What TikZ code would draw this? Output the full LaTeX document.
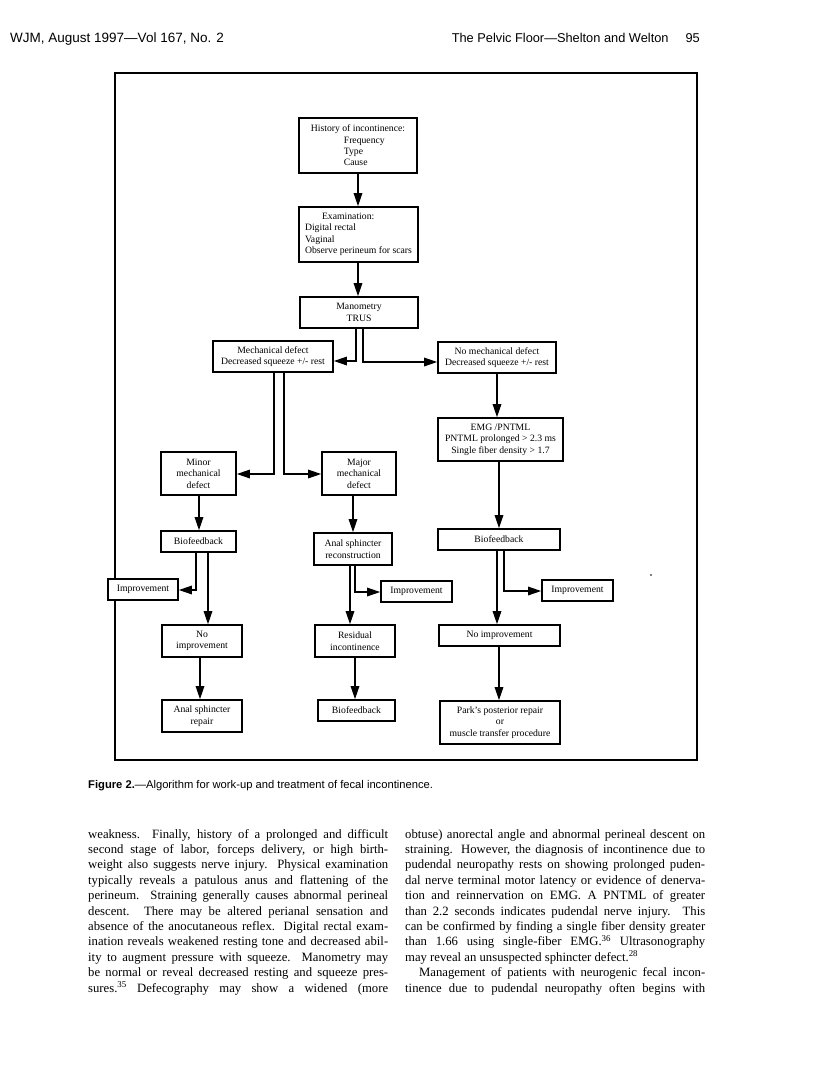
\documentclass[tikz,border=0pt]{standalone}
\usepackage{fontspec}
\setmainfont{Liberation Serif}
\setsansfont{Liberation Sans}
\usetikzlibrary{arrows.meta}
\newcommand{\jline}[1]{\makebox[300pt][s]{#1}}
\begin{document}
\begin{tikzpicture}[x=1pt, y=-1pt, line join=miter,
	box/.style={draw, line width=1.6pt, fill=white, inner sep=0pt, align=center, font=\fontsize{9.7}{11.4}\selectfont},
	arr/.style={line width=1.4pt, -{Triangle[length=13pt,width=8.5pt]}},
	bodytext/.style={inner sep=0pt, anchor=north west, align=left, font=\fontsize{12.7}{15.4}\selectfont}]
	\useasboundingbox (0,0) rectangle (816,1088);
	% running head
	\node[anchor=base west, inner sep=0pt, font=\sffamily\fontsize{13.5}{15}\selectfont] (headl) at (10,42) {WJM, August 1997\textemdash Vol 167, No. 2};
	\node[anchor=base east, inner sep=0pt, font=\sffamily\fontsize{12.8}{15}\selectfont] (headr) at (700,42) {The Pelvic Floor\textemdash Shelton and Welton\hspace{17pt}95};
	% figure frame
	\draw[line width=1.8pt] (115,73) rectangle (697,760);
	% first column of the chart
	\node[box, minimum width=118pt, minimum height=55pt, align=left] (hist) at (358,145.5) {History of incontinence:\\\hspace*{33pt}Frequency\\\hspace*{33pt}Type\\\hspace*{33pt}Cause};
	\node[box, minimum width=119pt, minimum height=55pt, align=left] (exam) at (358.5,234.5) {\hspace*{17pt}Examination:\\Digital rectal\\Vaginal\\Observe perineum for scars};
	\node[box, minimum width=118pt, minimum height=31pt] (mano) at (359,312.5) {Manometry\\TRUS};
	\node[box, minimum width=120pt, minimum height=31pt] (mech) at (273,356.5) {Mechanical defect\\Decreased squeeze +/- rest};
	\node[box, minimum width=118pt, minimum height=31pt] (nomech) at (497,357.5) {No mechanical defect\\Decreased squeeze +/- rest};
	\node[box, minimum width=125pt, minimum height=43pt] (emg) at (500.5,439.5) {EMG /PNTML\\PNTML prolonged > 2.3 ms\\Single fiber density > 1.7};
	% second row of the chart
	\node[box, minimum width=75pt, minimum height=43pt] (minor) at (198.5,473.5) {Minor\\mechanical\\defect};
	\node[box, minimum width=74pt, minimum height=43pt] (major) at (359,473.5) {Major\\mechanical\\defect};
	\node[box, minimum width=75pt, minimum height=21pt] (bfl) at (198.5,541.5) {Biofeedback};
	\node[box, minimum width=78pt, minimum height=32pt] (asr) at (353,549) {Anal sphincter\\reconstruction};
	\node[box, minimum width=122pt, minimum height=21pt] (bfr) at (499,539.5) {Biofeedback};
	\node[box, minimum width=70pt, minimum height=21pt] (impl) at (143,589.5) {Improvement};
	\node[box, minimum width=71pt, minimum height=21pt] (impm) at (416.5,591.5) {Improvement};
	\node[box, minimum width=71pt, minimum height=21pt] (impr) at (577.5,590.5) {Improvement};
	\node[box, minimum width=80pt, minimum height=32pt] (noimpl) at (202,641) {No\\improvement};
	\node[box, minimum width=80pt, minimum height=32pt] (resid) at (355,641) {Residual\\incontinence};
	\node[box, minimum width=121pt, minimum height=21pt] (noimpr) at (499.5,635.5) {No improvement};
	\node[box, minimum width=80pt, minimum height=32pt] (repair) at (202,716) {Anal sphincter\\repair};
	\node[box, minimum width=77pt, minimum height=21pt] (bfm) at (356.5,710.5) {Biofeedback};
	\node[box, minimum width=120pt, minimum height=43pt] (parks) at (500,722.5) {Park's posterior repair\\or\\muscle transfer procedure};
	% connectors
	\draw[arr] (hist.south) -- (hist.south |- exam.north);
	\draw[arr] ([xshift=-0.5pt]exam.south) -- ([xshift=-0.5pt]exam.south |- mano.north);
	\draw[arr] ([xshift=-3pt]mano.south) |- ([yshift=-4.5pt]mech.east);
	\draw[arr] ([xshift=4pt]mano.south) |- ([yshift=-4.5pt]nomech.west);
	\draw[arr] ([xshift=1pt]mech.south) |- ([yshift=-0.5pt]minor.east);
	\draw[arr] ([xshift=11pt]mech.south) |- ([yshift=-0.5pt]major.west);
	\draw[arr] (nomech.south) -- (nomech.south |- emg.north);
	\draw[arr] (bfr.north |- emg.south) -- (bfr.north);
	\draw[arr] ([xshift=0.5pt]minor.south) -- ([xshift=0.5pt]minor.south |- bfl.north);
	\draw[arr] (asr.north |- major.south) -- (asr.north);
	\draw[arr] ([xshift=-2.5pt]bfl.south) |- ([yshift=-0.5pt]impl.east);
	\draw[arr] ([xshift=9.5pt]bfl.south) -- ([xshift=9.5pt]bfl.south |- noimpl.north);
	\draw[arr] ([xshift=2pt]asr.south) |- ([yshift=-0.5pt]impm.west);
	\draw[arr] ([xshift=-3pt]asr.south) -- ([xshift=-3pt]asr.south |- resid.north);
	\draw[arr] ([xshift=5pt]bfr.south) |- ([yshift=-0.5pt]impr.west);
	\draw[arr] ([xshift=-2pt]bfr.south) -- ([xshift=-2pt]bfr.south |- noimpr.north);
	\draw[arr] ([xshift=-2pt]noimpl.south) -- ([xshift=-2pt]noimpl.south |- repair.north);
	\draw[arr] (resid.south) -- (resid.south |- bfm.north);
	\draw[arr] ([xshift=-0.5pt]noimpr.south) -- ([xshift=-0.5pt]noimpr.south |- parks.north);
	\fill (651,575) circle (0.8pt);
	% caption
	\node[anchor=base west, inner sep=0pt, font=\sffamily\fontsize{11.2}{13}\selectfont] (capt) at (88,788) {\textbf{Figure 2.}\textemdash Algorithm for work-up and treatment of fecal incontinence.};
	% body text
	\node[bodytext] (colA) at (88,829) {%
		\jline{weakness. Finally, history of a prolonged and difficult}\\
		\jline{second stage of labor, forceps delivery, or high birth-}\\
		\jline{weight also suggests nerve injury. Physical examination}\\
		\jline{typically reveals a patulous anus and flattening of the}\\
		\jline{perineum. Straining generally causes abnormal perineal}\\
		\jline{descent. There may be altered perianal sensation and}\\
		\jline{absence of the anocutaneous reflex. Digital rectal exam-}\\
		\jline{ination reveals weakened resting tone and decreased abil-}\\
		\jline{ity to augment pressure with squeeze. Manometry may}\\
		\jline{be normal or reveal decreased resting and squeeze pres-}\\
		\jline{sures.\textsuperscript{35} Defecography may show a widened (more}};
	\node[bodytext] (colB) at (405,829) {%
		\jline{obtuse) anorectal angle and abnormal perineal descent on}\\
		\jline{straining. However, the diagnosis of incontinence due to}\\
		\jline{pudendal neuropathy rests on showing prolonged puden-}\\
		\jline{dal nerve terminal motor latency or evidence of denerva-}\\
		\jline{tion and reinnervation on EMG. A PNTML of greater}\\
		\jline{than 2.2 seconds indicates pudendal nerve injury. This}\\
		\jline{can be confirmed by finding a single fiber density greater}\\
		\jline{than 1.66 using single-fiber EMG.\textsuperscript{36} Ultrasonography}\\
		may reveal an unsuspected sphincter defect.\textsuperscript{28}\\
		\jline{\hspace*{14pt}Management of patients with neurogenic fecal incon-}\\
		\jline{tinence due to pudendal neuropathy often begins with}};
\end{tikzpicture}
\end{document}
